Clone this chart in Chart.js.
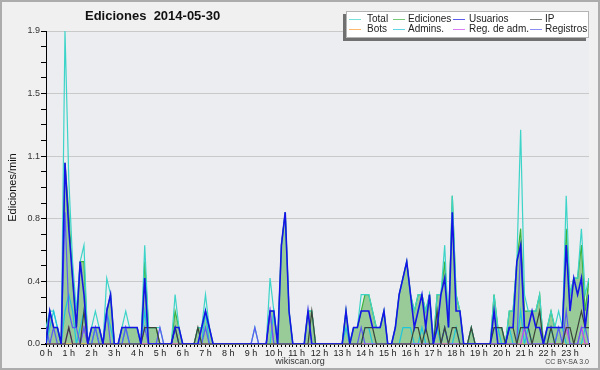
<!DOCTYPE html>
<html>
<head>
<meta charset="utf-8">
<script src="https://cdn.jsdelivr.net/npm/chart.js@4.4.1/dist/chart.umd.min.js"></script>
<style>
  body { margin: 0; background: #f0f0f0; }
  #frame { position: relative; width: 600px; height: 370px; overflow: hidden; }
  #frame canvas { position: absolute; left: 0; top: 0; }
  .border { position: absolute; left: 0; top: 0; width: 600px; height: 370px; box-sizing: border-box; border: 2px solid #acacac; pointer-events: none; }
  .title { position: absolute; left: 85px; top: 8px; font: bold 13px "Liberation Sans", Arial, sans-serif; color: #111; white-space: pre; }
  .legend { position: absolute; left: 346px; top: 11px; width: 241px; height: 25px; background: #fff; border: 1px solid #b4b4b4; box-shadow: -3px 3px 0 #707070; font: 10px "Liberation Sans", Arial, sans-serif; color: #222; }
  .legend .ln { position: absolute; width: 12px; height: 1px; opacity: 0.7; }
  .legend .tx { position: absolute; height: 12px; line-height: 12px; white-space: nowrap; }
  .site { position: absolute; left: 0; width: 600px; top: 356px; text-align: center; font: 9px "Liberation Sans", Arial, sans-serif; color: #333; }
  .lic { position: absolute; right: 11px; top: 358px; font: 7px "Liberation Sans", Arial, sans-serif; color: #444; }
</style>
</head>
<body>
<div id="frame">
  <canvas id="chart" width="600" height="370"></canvas>
  <div class="title">Ediciones  2014-05-30</div>
  <div class="legend" id="legend"></div>
  <div class="site">wikiscan.org</div>
  <div class="lic">CC BY-SA 3.0</div>
  <div class="border"></div>
</div>
<script>
// one value per 10 minutes, six per row = one hour per row (edits/min)
const hourLabels = ['0 h', '1 h', '2 h', '3 h', '4 h', '5 h', '6 h', '7 h', '8 h', '9 h', '10 h', '11 h',
  '12 h', '13 h', '14 h', '15 h', '16 h', '17 h', '18 h', '19 h', '20 h', '21 h', '22 h', '23 h'];
const yTickLabels = ['0.0', '0.4', '0.8', '1.1', '1.5', '1.9'];
const seriesNames = ['Total', 'Ediciones', 'Usuarios', 'IP', 'Bots', 'Admins.', 'Reg. de adm.', 'Registros'];

const total = [
  0.1, 0.2, 0.2, 0.1, 0, 1.9,
  1.0, 0.5, 0.2, 0.5, 0.6, 0,
  0.1, 0.2, 0.1, 0, 0.4, 0.3,
  0, 0, 0.1, 0.2, 0.1, 0.1,
  0.1, 0, 0.6, 0.1, 0.1, 0.1,
  0.1, 0, 0, 0, 0.3, 0.1,
  0, 0, 0, 0, 0.1, 0.1,
  0.3, 0.1, 0, 0, 0, 0,
  0, 0, 0, 0, 0, 0,
  0, 0.1, 0, 0, 0, 0.4,
  0.2, 0, 0.6, 0.8, 0.2, 0,
  0, 0, 0, 0.2, 0.2, 0,
  0, 0, 0, 0, 0, 0,
  0, 0.2, 0, 0.1, 0.1, 0.3,
  0.3, 0.3, 0.2, 0.1, 0.1, 0.2,
  0, 0, 0.1, 0.3, 0.4, 0.5,
  0.3, 0.2, 0.3, 0.3, 0.2, 0.3,
  0, 0.3, 0.3, 0.6, 0.1, 0.9,
  0.3, 0.2, 0, 0, 0.1, 0,
  0, 0, 0, 0, 0.3, 0.1,
  0.1, 0, 0.2, 0.2, 0.5, 1.3,
  0.3, 0.2, 0.2, 0.2, 0.3, 0,
  0.1, 0.2, 0.1, 0.2, 0.1, 0.9,
  0.3, 0.4, 0.4, 0.7, 0.3, 0.4
];
const ediciones = [
  0, 0.2, 0.1, 0.1, 0, 1.1,
  0.8, 0.4, 0.1, 0.5, 0.5, 0,
  0.1, 0.1, 0.1, 0, 0.2, 0.3,
  0, 0, 0.1, 0.1, 0.1, 0.1,
  0.1, 0, 0.5, 0.1, 0.1, 0.1,
  0, 0, 0, 0, 0.2, 0.1,
  0, 0, 0, 0, 0.1, 0.1,
  0.2, 0.1, 0, 0, 0, 0,
  0, 0, 0, 0, 0, 0,
  0, 0, 0, 0, 0, 0.2,
  0.2, 0, 0.6, 0.8, 0.2, 0,
  0, 0, 0, 0.2, 0.2, 0,
  0, 0, 0, 0, 0, 0,
  0, 0.2, 0, 0.1, 0.1, 0.2,
  0.3, 0.3, 0.2, 0.1, 0.1, 0.2,
  0, 0, 0.1, 0.3, 0.4, 0.5,
  0.3, 0.2, 0.3, 0.3, 0.2, 0.3,
  0, 0.3, 0.3, 0.5, 0.1, 0.9,
  0.3, 0.2, 0, 0, 0.1, 0,
  0, 0, 0, 0, 0.3, 0.1,
  0.1, 0, 0.2, 0.2, 0.5, 0.7,
  0.2, 0.2, 0.2, 0.2, 0.3, 0,
  0.1, 0.2, 0.1, 0.1, 0.1, 0.7,
  0.3, 0.4, 0.4, 0.6, 0.2, 0.4
];
const usuarios = [
  0, 0.2, 0.1, 0.1, 0, 1.1,
  0.7, 0.4, 0.1, 0.5, 0.3, 0,
  0.1, 0.1, 0.1, 0, 0.2, 0.3,
  0, 0, 0.1, 0.1, 0.1, 0.1,
  0.1, 0, 0.4, 0, 0, 0,
  0, 0, 0, 0, 0.1, 0.1,
  0, 0, 0, 0, 0, 0.1,
  0.2, 0.1, 0, 0, 0, 0,
  0, 0, 0, 0, 0, 0,
  0, 0, 0, 0, 0, 0.2,
  0.2, 0, 0.6, 0.8, 0.2, 0,
  0, 0, 0, 0.2, 0, 0,
  0, 0, 0, 0, 0, 0,
  0, 0.2, 0, 0.1, 0.1, 0.2,
  0.2, 0.2, 0.1, 0.1, 0.1, 0.2,
  0, 0, 0.1, 0.3, 0.4, 0.5,
  0.3, 0.1, 0.2, 0.3, 0.1, 0.3,
  0, 0.1, 0.3, 0.4, 0.1, 0.8,
  0.2, 0.2, 0, 0, 0, 0,
  0, 0, 0, 0, 0.2, 0,
  0, 0, 0.1, 0.1, 0.5, 0.6,
  0.1, 0.1, 0.2, 0.1, 0.1, 0,
  0.1, 0.1, 0.1, 0.1, 0.1, 0.6,
  0.2, 0.4, 0.3, 0.4, 0.1, 0.3
];
const ip = [
  0, 0, 0, 0, 0, 0,
  0.1, 0, 0, 0, 0.2, 0,
  0, 0, 0, 0, 0, 0,
  0, 0, 0, 0, 0, 0,
  0, 0, 0.1, 0.1, 0.1, 0.1,
  0, 0, 0, 0, 0.1, 0,
  0, 0, 0, 0, 0.1, 0,
  0, 0, 0, 0, 0, 0,
  0, 0, 0, 0, 0, 0,
  0, 0, 0, 0, 0, 0,
  0, 0, 0, 0, 0, 0,
  0, 0, 0, 0, 0.2, 0,
  0, 0, 0, 0, 0, 0,
  0, 0, 0, 0, 0, 0,
  0.1, 0.1, 0.1, 0, 0, 0,
  0, 0, 0, 0, 0, 0,
  0, 0.1, 0.1, 0, 0.1, 0,
  0, 0.2, 0, 0.1, 0, 0.1,
  0.1, 0, 0, 0, 0.1, 0,
  0, 0, 0, 0, 0.1, 0.1,
  0.1, 0, 0.1, 0.1, 0, 0.1,
  0.1, 0.1, 0, 0.1, 0.2, 0,
  0, 0.1, 0, 0, 0, 0.1,
  0.1, 0, 0.1, 0.2, 0.1, 0.1
];
const bots = [
  0, 0, 0, 0, 0, 0,  0, 0, 0, 0, 0, 0,  0, 0, 0, 0, 0, 0,  0, 0, 0, 0, 0, 0,
  0, 0, 0, 0, 0, 0,  0, 0, 0, 0, 0, 0,  0, 0, 0, 0, 0, 0,  0, 0, 0, 0, 0, 0,
  0, 0, 0, 0, 0, 0,  0, 0, 0, 0, 0, 0,  0, 0, 0, 0, 0, 0,  0, 0, 0, 0, 0, 0,
  0, 0, 0, 0, 0, 0,  0, 0, 0, 0, 0, 0,  0, 0, 0, 0, 0, 0,  0, 0, 0, 0, 0, 0,
  0, 0, 0, 0, 0, 0,  0, 0, 0, 0, 0, 0,  0, 0, 0, 0, 0, 0,  0, 0, 0, 0, 0, 0,
  0, 0, 0, 0, 0, 0,  0, 0, 0, 0, 0, 0,  0, 0, 0, 0, 0, 0,  0, 0, 0, 0, 0, 0
];
const admins = [
  0, 0.1, 0.2, 0.1, 0, 0.2,
  0.3, 0.2, 0, 0.1, 0.2, 0,
  0, 0.1, 0, 0, 0.2, 0.1,
  0, 0, 0, 0.1, 0, 0,
  0, 0, 0.2, 0, 0, 0,
  0, 0, 0, 0, 0.1, 0,
  0, 0, 0, 0, 0, 0,
  0.2, 0, 0, 0, 0, 0,
  0, 0, 0, 0, 0, 0,
  0, 0, 0, 0, 0, 0,
  0.2, 0, 0, 0, 0, 0,
  0, 0, 0, 0, 0, 0,
  0, 0, 0, 0, 0, 0,
  0, 0.1, 0, 0, 0, 0,
  0.1, 0.1, 0, 0, 0, 0,
  0, 0, 0, 0, 0.1, 0.1,
  0.1, 0, 0, 0.1, 0, 0,
  0, 0.1, 0, 0.1, 0, 0,
  0.1, 0, 0, 0, 0, 0,
  0, 0, 0, 0, 0.1, 0.1,
  0, 0, 0.1, 0, 0, 0.2,
  0, 0.1, 0, 0, 0, 0,
  0, 0.1, 0, 0.1, 0.1, 0,
  0, 0, 0, 0, 0.1, 0.1
];
const regAdm = [
  0, 0, 0, 0, 0, 0,
  0.1, 0, 0, 0, 0.1, 0,
  0, 0, 0, 0, 0, 0,
  0, 0, 0, 0, 0, 0,
  0, 0, 0, 0, 0, 0,
  0, 0, 0, 0, 0, 0,
  0, 0, 0, 0, 0, 0,
  0, 0, 0, 0, 0, 0,
  0, 0, 0, 0, 0, 0,
  0, 0, 0, 0, 0, 0.2,
  0, 0, 0, 0, 0, 0,
  0, 0, 0, 0, 0, 0,
  0, 0, 0, 0, 0, 0,
  0, 0, 0, 0, 0, 0,
  0, 0, 0, 0, 0, 0,
  0, 0, 0, 0, 0, 0,
  0, 0, 0, 0, 0, 0,
  0, 0, 0, 0, 0, 0,
  0, 0, 0, 0, 0, 0,
  0, 0, 0, 0, 0, 0,
  0, 0, 0, 0, 0, 0,
  0.1, 0, 0, 0, 0, 0,
  0, 0, 0, 0, 0, 0.1,
  0, 0, 0, 0.1, 0, 0
];
const registros = [
  0.1, 0, 0.1, 0, 0, 0.8,
  0.2, 0.1, 0.1, 0, 0.1, 0,
  0, 0.1, 0, 0, 0.2, 0,
  0, 0, 0, 0.1, 0, 0,
  0, 0, 0.1, 0, 0, 0,
  0.1, 0, 0, 0, 0.1, 0,
  0, 0, 0, 0, 0, 0,
  0.1, 0, 0, 0, 0, 0,
  0, 0, 0, 0, 0, 0,
  0, 0.1, 0, 0, 0, 0.2,
  0, 0, 0, 0, 0, 0,
  0, 0, 0, 0, 0, 0,
  0, 0, 0, 0, 0, 0,
  0, 0, 0, 0, 0, 0.1,
  0, 0, 0, 0, 0, 0,
  0, 0, 0, 0, 0, 0,
  0, 0, 0, 0, 0, 0,
  0, 0, 0, 0.1, 0, 0,
  0, 0, 0, 0, 0, 0,
  0, 0, 0, 0, 0, 0,
  0, 0, 0, 0, 0, 0.6,
  0.1, 0, 0, 0, 0, 0,
  0, 0, 0, 0.1, 0, 0.2,
  0, 0, 0, 0.1, 0.1, 0
];

const seriesData = [total, ediciones, usuarios, ip, bots, admins, regAdm, registros];
const seriesColors = ['#3cd4c8', '#3cb43c', '#1414e6', '#3a443a', '#ff9a30', '#1ec6dc', '#cc44ee', '#5c5cf2'];
const seriesWidths = [1.2, 1.2, 1.6, 1.2, 1.2, 1.2, 1.2, 1.2];
const seriesOrder = [6, 8, 1, 2, 7, 5, 4, 3];

const datasets = seriesData.map((arr, k) => ({
  label: seriesNames[k],
  data: arr.map((v, i) => ({ x: i, y: v })),
  borderColor: seriesColors[k],
  borderWidth: seriesWidths[k],
  backgroundColor: k === 1 ? '#98cb98' : seriesColors[k],
  fill: k === 1 ? 'origin' : false,
  pointRadius: 0,
  tension: 0,
  order: seriesOrder[k]
}));

// html legend, 2 rows x 4 columns
const legend = document.getElementById('legend');
const lineX = [2, 46, 106, 183], textX = [20, 61, 122, 198], rowY = [7, 17];
seriesNames.forEach((name, k) => {
  const col = k % 4, row = Math.floor(k / 4);
  const ln = document.createElement('div');
  ln.className = 'ln';
  ln.style.left = lineX[col] + 'px';
  ln.style.top = rowY[row] + 'px';
  ln.style.background = seriesColors[k];
  legend.appendChild(ln);
  const tx = document.createElement('div');
  tx.className = 'tx';
  tx.style.left = textX[col] + 'px';
  tx.style.top = (rowY[row] - 6) + 'px';
  tx.textContent = name;
  legend.appendChild(tx);
});

const plotBg = {
  id: 'plotBg',
  beforeDraw(chart) {
    const { ctx, chartArea: a } = chart;
    ctx.save();
    ctx.fillStyle = '#f0f0f0';
    ctx.fillRect(0, 0, chart.width, chart.height);
    ctx.fillStyle = '#ecedf0';
    ctx.fillRect(a.left, a.top, a.right - a.left, a.bottom - a.top);
    ctx.restore();
  }
};

Chart.defaults.font.family = '"Liberation Sans", Arial, sans-serif';

new Chart(document.getElementById('chart'), {
  type: 'line',
  data: { datasets: datasets },
  plugins: [plotBg],
  options: {
    responsive: false,
    animation: false,
    layout: { padding: { top: 31, right: 11, left: 0, bottom: 0 } },
    plugins: { legend: { display: false }, tooltip: { enabled: false } },
    scales: {
      x: {
        type: 'linear', min: 0, max: 143, z: 1,
        ticks: {
          stepSize: 1, autoSkip: false, maxRotation: 0, minRotation: 0, maxTicksLimit: 1000,
          padding: 1, color: '#222', font: { size: 9 },
          callback: v => (v % 6 === 0 ? hourLabels[v / 6] : '')
        },
        grid: { drawOnChartArea: false, tickLength: 3, tickColor: '#000', tickWidth: 1 },
        border: { color: '#000', width: 1.5 },
        afterFit: s => { s.height = 26; }
      },
      y: {
        min: 0, max: 1.9,
        ticks: {
          stepSize: 0.095, autoSkip: false, maxTicksLimit: 1000, padding: 1,
          color: '#333', font: { size: 9 },
          callback: (v, i) => (i % 4 === 0 ? yTickLabels[i / 4] : '')
        },
        grid: {
          color: c => (c.index % 4 === 0 ? '#c9c9c9' : 'rgba(0,0,0,0)'),
          tickColor: '#000', tickLength: 5
        },
        border: { color: '#000', width: 1 },
        title: { display: true, text: 'Ediciones/min', color: '#111', font: { size: 11 }, padding: { top: 6, bottom: 0 } },
        afterFit: s => { s.width = 46; }
      }
    }
  }
});
</script>
</body>
</html>
